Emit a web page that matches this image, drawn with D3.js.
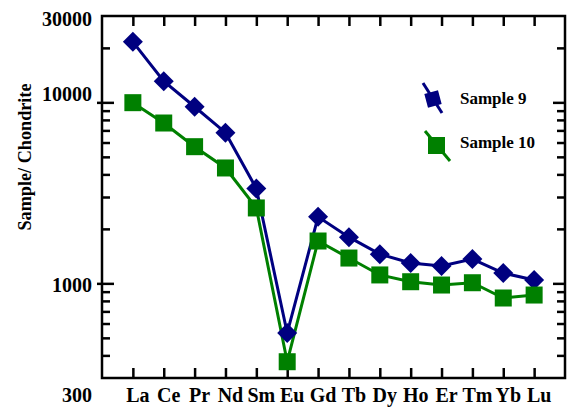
<!DOCTYPE html>
<html><head><meta charset="utf-8">
<script src="https://cdn.jsdelivr.net/npm/d3@7"></script>
<style>body{margin:0;background:#fff}svg{display:block}text{font-family:"Liberation Serif","Times New Roman",serif;font-weight:bold;fill:#000}</style>
</head><body><svg id="c" width="568" height="408"></svg>
<script>
const elements = ["La","Ce","Pr","Nd","Sm","Eu","Gd","Tb","Dy","Ho","Er","Tm","Yb","Lu"];
const sample9  = [21600,13100,9460,6800,3340,532,2330,1800,1450,1295,1247,1362,1140,1043];
const sample10 = [9960,7690,5690,4340,2610,369,1714,1380,1113,1021,979,1008,830,862];
const seriesNames = ["Sample 9","Sample 10"];
const yTickLabels = [30000,10000,1000,300];
const yMinor = [20000,9000,8000,7000,6000,5000,4000,3000,2000,900,800,700,600,500,400];
const yMajor = [10000,1000];

const svg = d3.select("#c");
const L=102,R=565,T=16,B=378;
const x = d3.scalePoint().domain(elements).range([L,R]).padding(1);
const y = d3.scaleLog().domain([300,30000]).range([B,T]);

function tickAxis(axis, tx, ty){
  const g = svg.append("g").attr("transform",`translate(${tx},${ty})`).call(axis);
  g.select(".domain").remove();
  g.selectAll("line").attr("stroke","#000").attr("stroke-width",2.5);
  g.selectAll("text").remove();
  return g;
}
tickAxis(d3.axisLeft(y).tickValues(yMinor).tickSize(-8).tickFormat(""), L, 0);
tickAxis(d3.axisRight(y).tickValues(yMinor).tickSize(-8).tickFormat(""), R, 0);
tickAxis(d3.axisLeft(y).tickValues(yMajor).tickSize(-12).tickFormat(""), L, 0);
tickAxis(d3.axisLeft(y).tickValues(yMajor).tickSize(5).tickFormat(""), L, 0);
tickAxis(d3.axisRight(y).tickValues(yMajor).tickSize(-12).tickFormat(""), R, 0);
tickAxis(d3.axisBottom(x).tickSize(-10).tickFormat(""), 0, B);
tickAxis(d3.axisTop(x).tickSize(-10).tickFormat(""), 0, T);

svg.append("rect").attr("x",L).attr("y",T).attr("width",R-L).attr("height",B-T)
  .attr("fill","none").attr("stroke","#000").attr("stroke-width",2.5);

const yLabOff = {30000:10, 10000:-1, 1000:9, 300:24};
svg.append("g").selectAll("text").data(yTickLabels).join("text")
  .attr("x",92).attr("y",d=>y(d)+yLabOff[d]).attr("text-anchor","end")
  .attr("font-size",20).text(d=>d);

svg.append("g").selectAll("text").data(elements).join("text")
  .attr("x",d=>x(d)+5).attr("y",402).attr("text-anchor","middle")
  .attr("font-size",20).text(d=>d);

svg.append("text").attr("transform","translate(31,157) rotate(-90)")
  .attr("text-anchor","middle").attr("font-size",19)
  .attr("textLength",147).attr("lengthAdjust","spacingAndGlyphs").text("Sample/ Chondrite");

const colors = ["#000080","#008000"];
const data = [sample9, sample10];
const line = d3.line().x((d,i)=>x(elements[i])).y(d=>y(d));
data.forEach((s,k)=>{
  svg.append("path").datum(s).attr("d",line).attr("fill","none")
    .attr("stroke",colors[k]).attr("stroke-width",3);
});
svg.append("g").selectAll("path").data(sample9).join("path")
  .attr("transform",(d,i)=>`translate(${x(elements[i])},${y(d)})`)
  .attr("d","M0,-10L10,0L0,10L-10,0Z").attr("fill",colors[0]);
svg.append("g").selectAll("rect").data(sample10).join("rect")
  .attr("x",(d,i)=>x(elements[i])-8.5).attr("y",d=>y(d)-8.5)
  .attr("width",17).attr("height",17).attr("fill",colors[1]);

const lg = svg.append("g");
lg.append("line").attr("x1",423).attr("y1",83).attr("x2",442).attr("y2",113)
  .attr("stroke",colors[0]).attr("stroke-width",3);
lg.append("path").attr("transform","translate(433,99) rotate(30)")
  .attr("d","M0,-10L10,0L0,10L-10,0Z").attr("fill",colors[0]);
lg.append("line").attr("x1",425).attr("y1",131).attr("x2",450).attr("y2",161)
  .attr("stroke",colors[1]).attr("stroke-width",3);
lg.append("rect").attr("x",428).attr("y",137).attr("width",17).attr("height",17).attr("fill",colors[1]);
lg.append("text").attr("x",460).attr("y",104).attr("font-size",17).text(seriesNames[0]);
lg.append("text").attr("x",460).attr("y",148).attr("font-size",17).text(seriesNames[1]);
</script></body></html>
